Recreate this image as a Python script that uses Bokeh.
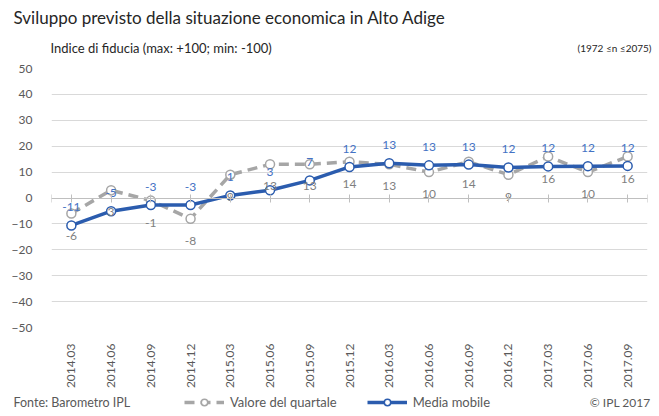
import math
from bokeh.plotting import figure
from bokeh.layouts import column
from bokeh.models import (ColumnDataSource, LinearAxis, FixedTicker, Range1d,
                          Legend, LegendItem)
from bokeh.core.properties import value
from bokeh.embed import file_html
from bokeh.resources import INLINE

categories = ["2014.03", "2014.06", "2014.09", "2014.12", "2015.03", "2015.06", "2015.09",
              "2015.12", "2016.03", "2016.06", "2016.09", "2016.12", "2017.03", "2017.06", "2017.09"]
quarterly = [-6, 3, -1, -8, 9, 13, 13, 14, 13, 10, 14, 9, 16, 10, 16]
moving_avg = [-10.6, -5.1, -2.7, -2.7, 1.0, 3.0, 6.8, 12.0, 13.4, 12.6, 12.9, 11.8, 12.2, 12.3, 12.4]
y_ticks = [-50, -40, -30, -20, -10, 0, 10, 20, 30, 40, 50]

title_text = "Sviluppo previsto della situazione economica in Alto Adige"
subtitle_text = "Indice di fiducia (max: +100; min: -100)"
n_text = "(1972 \u2264n \u22642075)"
source_text = "Fonte: Barometro IPL"
copy_text = "\u00a9 IPL 2017"
legend_labels = ["Valore del quartale", "Media mobile"]

FONT = "Lato"
GRAY = "#A6A6A6"
BLUE = "#2B5CAE"
W = 659
HEAD_H = 62
MAIN_H = 330
FOOT_H = 24

n = len(categories)
xs = list(range(n))


def text_panel(h):
    f = figure(width=W, height=h, output_backend="svg", toolbar_location=None,
               x_range=Range1d(0, W), y_range=Range1d(h, 0),
               x_axis_location=None, y_axis_location=None,
               min_border=0, min_border_left=0, min_border_right=0,
               min_border_top=0, min_border_bottom=0)
    f.outline_line_color = None
    f.grid.visible = False
    f.frame_align = False
    return f


# ---------------- header ----------------
head = text_panel(HEAD_H)
head.text(x=[13], y=[17], text=[title_text], text_font=value(FONT), text_font_size="17px",
          text_color="#262626", text_baseline="middle", text_align="left")
head.text(x=[50], y=[47], text=[subtitle_text], text_font=value(FONT), text_font_size="13px",
          text_color="#262626", text_baseline="middle", text_align="left")
head.text(x=[651], y=[47], text=[n_text], text_font=value(FONT), text_font_size="10px",
          text_color="#262626", text_baseline="middle", text_align="right")

# ---------------- main chart ----------------
src = ColumnDataSource(dict(
    x=xs, q=quarterly, m=moving_avg,
    ql=[str(v) for v in quarterly],
    ml=[str(int(round(v))) for v in moving_avg],
))

p = figure(width=W, height=MAIN_H, output_backend="svg", toolbar_location=None,
           x_range=Range1d(-0.5, n - 0.5), y_range=Range1d(-50, 50),
           min_border_left=51, min_border_right=12, min_border_top=6, min_border_bottom=65)
p.outline_line_color = None
p.frame_align = False

p.xgrid.grid_line_color = None
p.ygrid.grid_line_color = "#D9D9D9"
p.ygrid.ticker = FixedTicker(ticks=y_ticks)

p.yaxis.ticker = FixedTicker(ticks=y_ticks)
p.yaxis.axis_line_color = None
p.yaxis.major_tick_line_color = None
p.yaxis.minor_tick_line_color = None
p.yaxis.major_label_text_font = FONT
p.yaxis.major_label_text_font_size = "12px"
p.yaxis.major_label_text_color = "#595959"
p.yaxis.major_label_standoff = 13

p.xaxis.ticker = FixedTicker(ticks=xs)
p.xaxis.major_label_overrides = {i: c for i, c in enumerate(categories)}
p.xaxis.major_label_orientation = math.pi / 2
p.xaxis.axis_line_color = None
p.xaxis.major_tick_line_color = None
p.xaxis.minor_tick_line_color = None
p.xaxis.major_label_text_font = FONT
p.xaxis.major_label_text_font_size = "12px"
p.xaxis.major_label_text_color = "#595959"
p.xaxis.major_label_standoff = 10

zero_axis = LinearAxis(fixed_location=0,
                       ticker=FixedTicker(ticks=[-0.5] + xs + [n - 0.5]))
zero_axis.axis_line_color = "#BFBFBF"
zero_axis.major_tick_line_color = "#BFBFBF"
zero_axis.major_tick_in = 4
zero_axis.major_tick_out = 4
zero_axis.minor_tick_line_color = None
zero_axis.major_label_text_font_size = "0px"
zero_axis.major_label_text_alpha = 0
p.add_layout(zero_axis, "below")

p.line("x", "q", source=src, line_color=GRAY, line_width=3.5, line_dash="10 6")
p.scatter("x", "q", source=src, size=9, fill_color="white", line_color=GRAY, line_width=1.5)
p.line("x", "m", source=src, line_color=BLUE, line_width=3.5)
p.scatter("x", "m", source=src, size=9, fill_color="white", line_color=BLUE, line_width=1.5)

p.text("x", "q", text="ql", source=src, y_offset=22, text_align="center", text_baseline="middle",
       text_font=value(FONT), text_font_size="12px", text_color="#7F7F7F")
p.text("x", "m", text="ml", source=src, y_offset=-18, text_align="center", text_baseline="middle",
       text_font=value(FONT), text_font_size="12px", text_color="#4472C4")

# ---------------- footer ----------------
foot = text_panel(FOOT_H)
foot.text(x=[13], y=[10], text=[source_text], text_font=value(FONT), text_font_size="12.5px",
          text_color="#595959", text_baseline="middle", text_align="left")
foot.text(x=[650], y=[10], text=[copy_text], text_font=value(FONT), text_font_size="12px",
          text_color="#595959", text_baseline="middle", text_align="right")

# legend renderers (hidden; only their legend glyphs are shown)
gl = foot.line("x", "q", source=src, line_color=GRAY, line_width=3.5, line_dash="10 6", visible=False)
gc = foot.scatter("x", "q", source=src, size=9, fill_color="white", line_color=GRAY,
                  line_width=1.5, visible=False)
bl = foot.line("x", "m", source=src, line_color=BLUE, line_width=3.5, visible=False)
bc = foot.scatter("x", "m", source=src, size=9, fill_color="white", line_color=BLUE,
                  line_width=1.5, visible=False)

legend = Legend(items=[LegendItem(label=legend_labels[0], renderers=[gl, gc]),
                       LegendItem(label=legend_labels[1], renderers=[bl, bc])],
                orientation="horizontal", location=(184, 6), click_policy="none",
                glyph_width=40, glyph_height=16, label_height=16, label_standoff=6, spacing=30,
                padding=0, margin=0, border_line_color=None, background_fill_alpha=0,
                inactive_fill_alpha=0,
                label_text_font=FONT, label_text_font_size="13px", label_text_color="#595959")
foot.add_layout(legend, "center")

layout = column(head, p, foot, spacing=0)
open("out.html", "w").write(file_html(layout, INLINE))
